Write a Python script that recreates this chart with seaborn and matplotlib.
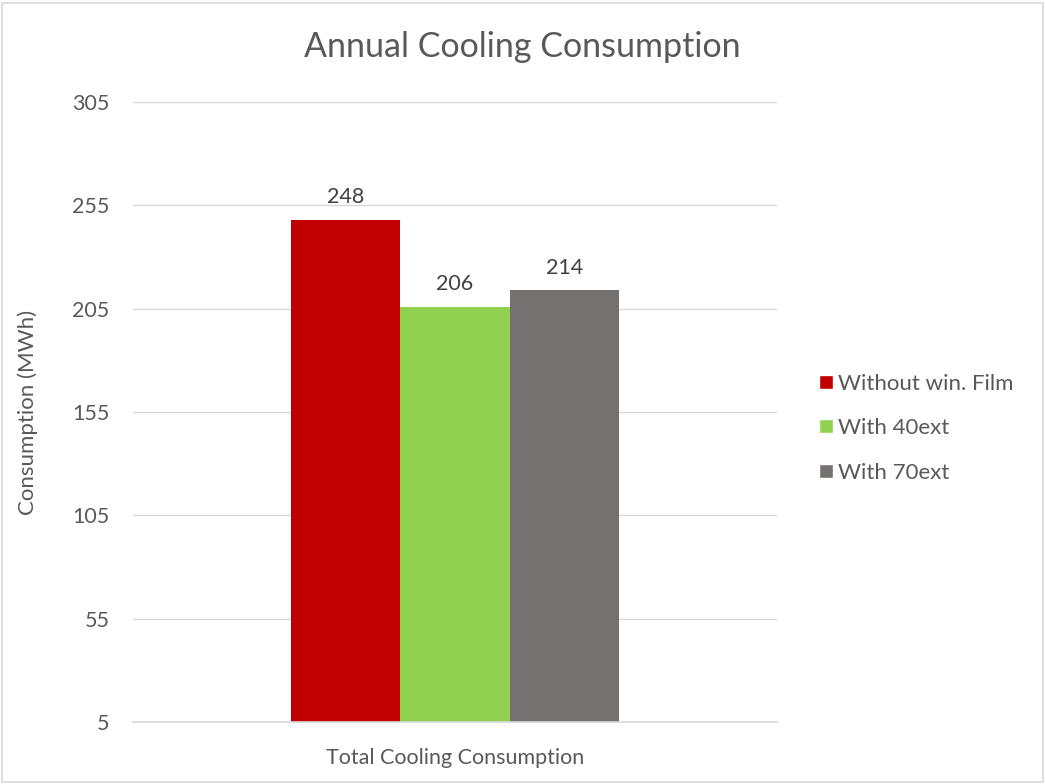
import pandas as pd
import seaborn as sns
import matplotlib.pyplot as plt
from matplotlib.patches import Rectangle

# data
category = ["Total Cooling Consumption"]
series = ["Without win. Film", "With 40ext", "With 70ext"]
values = [248, 206, 214]
colors = ["#C00000", "#92D050", "#767171"]
yticks = [5, 55, 105, 155, 205, 255, 305]

df = pd.DataFrame({"Category": category * len(series), "Series": series, "Value": values})

sns.set_style("white")
plt.rcParams["font.family"] = ["Lato", "DejaVu Sans"]
txt = "#595959"

fig = plt.figure(figsize=(10.45, 7.84), dpi=100)
ax = fig.add_axes([0.1273, 0.0791, 0.6162, 0.7908])

sns.barplot(data=df, x="Category", y="Value", hue="Series", palette=colors,
            width=0.51, saturation=1, ax=ax)
# bars start from the axis minimum (5)
for p in ax.patches:
    h = p.get_height()
    if h:
        p.set_y(yticks[0])
        p.set_height(h - yticks[0])
        p.set_linewidth(0)

for c, v in zip(ax.containers, values):
    ax.bar_label(c, labels=[str(v)], padding=9, fontsize=15.5, color="#404040")

ax.set_ylim(yticks[0], yticks[-1])
ax.set_yticks(yticks)
ax.set_xlim(-0.5, 0.5)
ax.yaxis.grid(True, color="#D9D9D9", linewidth=1)
ax.set_axisbelow(True)
for s in ["top", "right", "left"]:
    ax.spines[s].set_visible(False)
ax.spines["bottom"].set_color("#D9D9D9")
ax.spines["bottom"].set_linewidth(1.2)
ax.tick_params(axis="y", length=0, labelsize=15.5, colors=txt, pad=17)
ax.tick_params(axis="x", length=0, labelsize=15.5, colors=txt, pad=19)
ax.set_xlabel("")
ax.set_ylabel("")
fig.text(28 / 1045, 1 - 412 / 784, "Consumption (MWh)", rotation=90, fontsize=16,
         color=txt, ha="center", va="center")
fig.text(0.5, 1 - 47 / 784, "Annual Cooling Consumption", fontsize=24.5, color=txt,
         ha="center", va="center")

handles, labels = ax.get_legend_handles_labels()
leg = ax.legend(handles, labels, loc="center left", bbox_to_anchor=(1.035, 0.474),
                frameon=False, fontsize=16, labelcolor=txt, handlelength=0.6,
                handleheight=0.6, handletextpad=0.25, labelspacing=1.1)

fig.patches.append(Rectangle((0.002, 0.002), 0.996, 0.994, transform=fig.transFigure,
                             fill=False, edgecolor="#D9D9D9", linewidth=1.2))

fig.savefig("out.png", dpi=100)
